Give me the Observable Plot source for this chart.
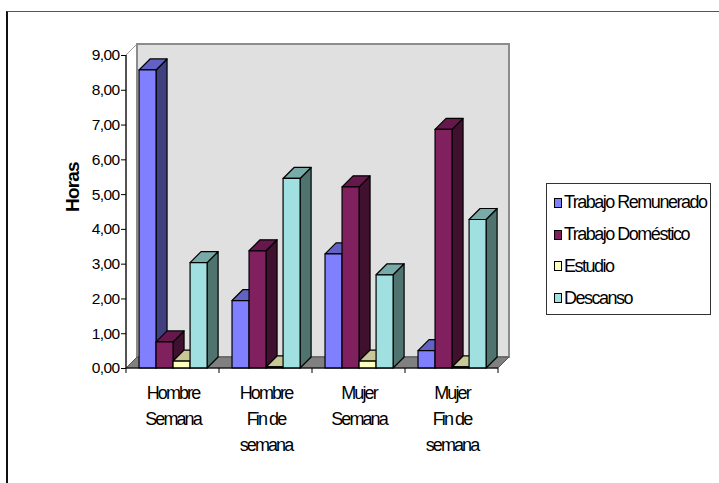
<!DOCTYPE html>
<html><head><meta charset="utf-8">
<script src="https://cdn.jsdelivr.net/npm/d3@7"></script>
<script src="https://cdn.jsdelivr.net/npm/@observablehq/plot@0.6"></script>
<style>
body{margin:0;background:#fff;}
#wrap{position:relative;width:719px;height:483px;overflow:hidden;background:#fff;}
#frame{position:absolute;left:6px;top:11px;width:900px;height:700px;border-left:2px solid #111;border-top:1px solid #555;}
#chart{position:absolute;left:0;top:0;}
#legend{position:absolute;left:546px;top:183px;width:165px;height:132px;border:1px solid #333;box-sizing:border-box;font-family:"Liberation Sans",Arial,sans-serif;font-size:18px;color:#000;}
.item{position:absolute;left:7px;height:20px;display:flex;align-items:center;white-space:nowrap;letter-spacing:-1.5px;}
.sw{width:8px;height:10px;border:1px solid #000;box-sizing:border-box;margin-right:2px;}
</style></head>
<body><div id="wrap"><div id="frame"></div><div id="chart"></div><div id="legend"></div></div>
<script>
const groups = ["Hombre Semana","Hombre Fin de semana","Mujer Semana","Mujer Fin de semana"];
const groupLabels = ["Hombre\nSemana","Hombre\nFin de\nsemana","Mujer\nSemana","Mujer\nFin de\nsemana"];
const series = ["Trabajo Remunerado","Trabajo Doméstico","Estudio","Descanso"];
const trabajoRemunerado = [8.57,1.94,3.28,0.50];
const trabajoDomestico = [0.75,3.37,5.21,6.86];
const estudio = [0.20,0.03,0.20,0.03];
const descanso = [3.03,5.45,2.68,4.27];
const yTicks = [0,1,2,3,4,5,6,7,8,9];
const yTitle = "Horas";

const seriesValues = [trabajoRemunerado, trabajoDomestico, estudio, descanso];
const frontColors = ["#8080ff","#80205f","#ffffc0","#a0e0e0"];
const topColors = ["#6262c4","#66184c","#c8c896","#78aaa8"];
const sideColors = ["#40407f","#40102f","#80805f","#4f7470"];
const font = '"Liberation Sans",Arial,sans-serif';

function scene(index, scales, values, dimensions) {
  const {x, y} = scales;
  const bw = x.bandwidth ? x.bandwidth() : (dimensions.width - dimensions.marginLeft - dimensions.marginRight) / groups.length;
  const dx = 11, dy = -11;
  const g = d3.create("svg:g");
  const xL = x(groups[0]), xR = x(groups[groups.length - 1]) + bw;
  const y0 = y(0), yTop = y(d3.max(yTicks));
  const pts = a => a.map(p => p.join(",")).join(" ");
  g.append("polygon").attr("points", pts([[xL, y0], [xL, yTop], [xL + dx, yTop + dy], [xL + dx, y0 + dy]]))
    .attr("fill", "#fff").attr("stroke", "#a0a0a0").attr("stroke-width", 1);
  g.append("rect").attr("x", xL + dx).attr("y", yTop + dy).attr("width", xR - xL).attr("height", y0 - yTop)
    .attr("fill", "#e0e0e0").attr("stroke", "#8c8c8c").attr("stroke-width", 2);
  g.append("polygon").attr("points", pts([[xL, y0], [xR, y0], [xR + dx, y0 + dy], [xL + dx, y0 + dy]]))
    .attr("fill", "#808080").attr("stroke", "#555").attr("stroke-width", 1);
  const leftFrac = 0.14, barFrac = 0.183;
  groups.forEach((grp, gi) => {
    seriesValues.forEach((vals, si) => {
      const x0 = x(grp) + bw * (leftFrac + si * barFrac);
      const x1 = x0 + bw * barFrac;
      const yv = y(vals[gi]);
      const bar = g.append("g").attr("stroke", "#000").attr("stroke-width", 1.2).attr("stroke-linejoin", "round");
      bar.append("polygon").attr("points", pts([[x1, yv], [x1 + dx, yv + dy], [x1 + dx, y0 + dy], [x1, y0]])).attr("fill", sideColors[si]);
      bar.append("polygon").attr("points", pts([[x0, yv], [x1, yv], [x1 + dx, yv + dy], [x0 + dx, yv + dy]])).attr("fill", topColors[si]);
      bar.append("rect").attr("x", x0).attr("y", yv).attr("width", x1 - x0).attr("height", y0 - yv).attr("fill", frontColors[si]);
    });
  });
  g.append("line").attr("x1", xL).attr("x2", xL).attr("y1", yTop).attr("y2", y0).attr("stroke", "#000").attr("stroke-width", 1.2);
  g.append("line").attr("x1", xL).attr("x2", xR).attr("y1", y0).attr("y2", y0).attr("stroke", "#000").attr("stroke-width", 1.2);
  groups.concat([null]).forEach((grp) => {
    const xt = grp == null ? xR : x(grp);
    g.append("line").attr("x1", xt).attr("x2", xt).attr("y1", y0).attr("y2", y0 + 5).attr("stroke", "#000");
  });
  return g.node();
}

const chart = Plot.plot({
  width: 719,
  height: 483,
  marginLeft: 126,
  marginRight: 221,
  marginTop: 55,
  marginBottom: 115,
  style: {background: "transparent", color: "#000", overflow: "visible", fontFamily: font},
  x: {type: "band", domain: groups, paddingInner: 0, paddingOuter: 0},
  y: {domain: [0, 9]},
  marks: [
    scene,
    Plot.axisY(yTicks, {tickSize: 5, tickPadding: 2, tickFormat: d => d.toFixed(2).replace(".", ","), fontSize: 15.5, label: null}),
    Plot.axisX({tickSize: 0, tickPadding: 12, tickFormat: d => groupLabels[groups.indexOf(d)], fontSize: 18, lineHeight: 1.44, label: null}),
    Plot.text([yTitle], {frameAnchor: "left", dx: -54, rotate: -90, fontWeight: "bold", fontSize: 19})
  ]
});
document.getElementById("chart").appendChild(chart);
d3.select(chart).selectAll("g[aria-label='x-axis tick label'] text").style("letter-spacing", "-1.9px");
d3.select(chart).selectAll("g[aria-label='y-axis tick label'] text").style("letter-spacing", "-0.6px");
d3.select(chart).selectAll("g[aria-label='text'] text").style("letter-spacing", "-0.8px");

const legend = d3.select("#legend");
series.forEach((s, i) => {
  const item = legend.append("div").attr("class", "item").style("top", (8.7 + 31.8 * i) + "px");
  item.append("div").attr("class", "sw").style("background", frontColors[i]);
  item.append("span").text(s);
});
</script>
</body></html>
